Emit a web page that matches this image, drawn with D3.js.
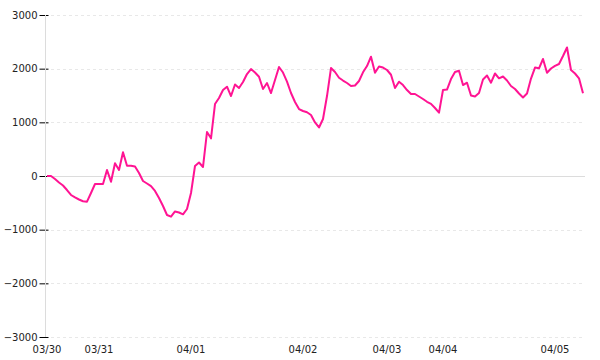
<!DOCTYPE html>
<html>
<head>
<meta charset="utf-8">
<script src="https://cdn.jsdelivr.net/npm/d3@7"></script>
<style>
  body { margin: 0; background: #fff; }
  text { font-family: "DejaVu Sans", sans-serif; font-size: 10px; fill: #222; }
</style>
</head>
<body>
<div id="viz"></div>
<script>
// one value per sample, days are not evenly sampled
const values = [
  0, 0, -56, -121, -177, -261, -354, -400, -438, -470,
  -479, -317, -149, -149, -149, 112, -106, 237, 112, 442,
  192, 192, 177, 56, -93, -140, -190, -279, -410, -559,
  -727, -758, -661, -680, -714, -615, -317, 186, 251, 168,
  820, 702, 1341, 1453, 1602, 1664, 1490, 1705, 1639, 1751,
  1900, 1993, 1928, 1850, 1621, 1733, 1546, 1788, 2031, 1928,
  1757, 1546, 1379, 1248, 1211, 1187, 1136, 997, 904, 1062,
  1490, 2012, 1938, 1831, 1779, 1733, 1677, 1686, 1770, 1932,
  2049, 2223, 1925, 2040, 2021, 1975, 1887, 1639, 1757, 1695,
  1602, 1528, 1528, 1481, 1435, 1383, 1345, 1267, 1180, 1602,
  1611, 1807, 1938, 1962, 1695, 1738, 1500, 1481, 1546, 1798,
  1872, 1738, 1910, 1820, 1854, 1779, 1677, 1621, 1537, 1462,
  1537, 1816, 2021, 2006, 2180, 1924, 2003, 2053, 2087, 2236,
  2394, 1975, 1910, 1820, 1541
];
const dayIndex = [0, 13, 36, 64, 85, 99, 127];
const dayLabels = ['03/30', '03/31', '04/01', '04/02', '04/03', '04/04', '04/05'];
const yTicks = [-3000, -2000, -1000, 0, 1000, 2000, 3000];

const width = 600, height = 360;
const margin = { top: 15, right: 15, bottom: 23, left: 45 };
const innerH = height - margin.top - margin.bottom;

const svg = d3.select('#viz')
  .append('svg')
  .attr('width', width)
  .attr('height', height);

const xScale = d3.scaleLinear()
  .domain([0, values.length - 1])
  .range([margin.left + 2, width - margin.right - 2]);

const yScale = d3.scaleLinear()
  .domain([-3000, 3000])
  .range([margin.top + innerH, margin.top]);

// grid
svg.append('g')
  .selectAll('line')
  .data(yTicks)
  .enter().append('line')
  .attr('x1', margin.left)
  .attr('x2', width - margin.right)
  .attr('y1', d => Math.round(yScale(d)) + 0.5)
  .attr('y2', d => Math.round(yScale(d)) + 0.5)
  .attr('stroke', d => d === 0 ? '#dcdcdc' : '#e8e8e8')
  .attr('stroke-dasharray', d => d === 0 ? null : '3,3');

// y axis
const yAxis = d3.axisLeft(yScale)
  .tickValues(yTicks)
  .tickFormat(d3.format('d'))
  .tickSizeInner(6)
  .tickSizeOuter(0)
  .tickPadding(2);

const yGuide = svg.append('g')
  .attr('transform', 'translate(' + (margin.left + 0.5) + ',0)')
  .call(yAxis);
yGuide.select('.domain').remove();
yGuide.selectAll('.tick line')
  .attr('x1', 3)
  .attr('stroke', '#000');
yGuide.selectAll('.tick text')
  .attr('font-size', null)
  .attr('font-family', null);

svg.append('line')
  .attr('x1', margin.left + 0.5)
  .attr('x2', margin.left + 0.5)
  .attr('y1', yScale(3000))
  .attr('y2', yScale(-3000))
  .attr('stroke', '#dcdcdc');

// x labels
svg.append('g')
  .selectAll('text')
  .data(dayIndex)
  .enter().append('text')
  .attr('x', d => xScale(d))
  .attr('y', height - 7)
  .attr('text-anchor', 'middle')
  .text((d, i) => dayLabels[i]);

// line
const line = d3.line()
  .x((d, i) => xScale(i))
  .y(d => yScale(d));

svg.append('path')
  .datum(values)
  .attr('d', line)
  .attr('fill', 'none')
  .attr('stroke', '#ff1493')
  .attr('stroke-width', 2)
  .attr('stroke-linejoin', 'round');
</script>
</body>
</html>
